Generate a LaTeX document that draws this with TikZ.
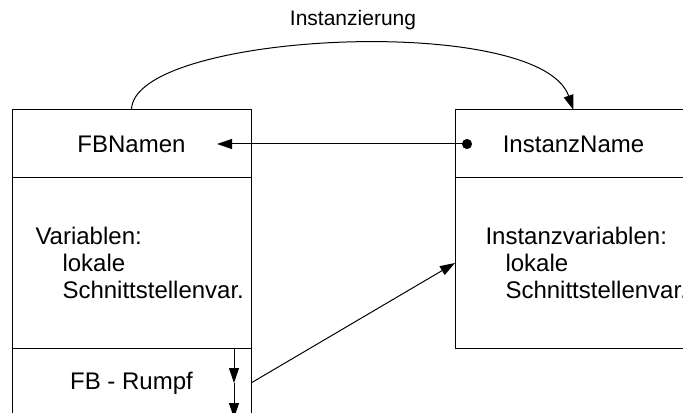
\documentclass[tikz,border=0pt]{standalone}
\usepackage{fontspec}
\setmainfont{Liberation Sans}
\usepackage{tikz}
\usetikzlibrary{positioning, arrows.meta}

\begin{document}
\begin{tikzpicture}[x=0.5pt, y=0.5pt, line width=0.5pt,
    font=\fontsize{12}{13.3}\selectfont,
    part/.style={draw, outer sep=0pt, inner sep=0pt, minimum width=119.5pt},
    txt/.style={inner sep=0pt, anchor=west, align=left},
    arr/.style={-{Triangle[length=7.5pt, width=5pt]}},
    node distance=0pt]
  \useasboundingbox (0,0) rectangle (683,412);
  \clip (0,0) rectangle (683,412);
  % function block (type)
  \node[part, minimum height=34pt] (fbname) at (131.5,268) {FBNamen};
  \node[part, minimum height=85pt, below=of fbname] (fbvars) {};
  \node[part, minimum height=35pt, below=of fbvars] (fbbody) {FB - Rumpf};
  \node[txt] (fbvartxt) at ([xshift=11.5pt]fbvars.west)
     {Variablen:\\\hspace*{13.5pt}lokale\\\hspace*{13.5pt}Schnittstellenvar.};
  % instance
  \node[part, minimum width=118.5pt, minimum height=34pt] (instname) at (573.5,268) {InstanzName};
  \node[part, minimum width=118.5pt, minimum height=85pt, below=of instname] (instvars) {};
  \node[txt] (instvartxt) at ([xshift=15pt]instvars.west)
     {Instanzvariablen:\\\hspace*{10pt}lokale\\\hspace*{10pt}Schnittstellenvar.};
  % connections
  \draw[arr] (fbname.north) .. controls +(0,78) and +(-34,98) .. (instname.north);
  \node[font=\fontsize{10.5}{12}\selectfont] (instlbl) at (353,392) {Instanzierung};
  \draw[{Circle[length=5pt]}-{Triangle[length=7.5pt, width=5pt]}]
     ([xshift=8.5pt]instname.west) -- ([xshift=-17pt]fbname.east);
  \draw[arr] (fbbody.east) -- (instvars.west);
  \draw[arr] ([xshift=-8.5pt]fbbody.north east) -- ([xshift=-8.5pt]fbbody.east);
  \draw[arr] ([xshift=-8.5pt]fbbody.east) -- ([xshift=-8.5pt]fbbody.south east);
\end{tikzpicture}
\end{document}
